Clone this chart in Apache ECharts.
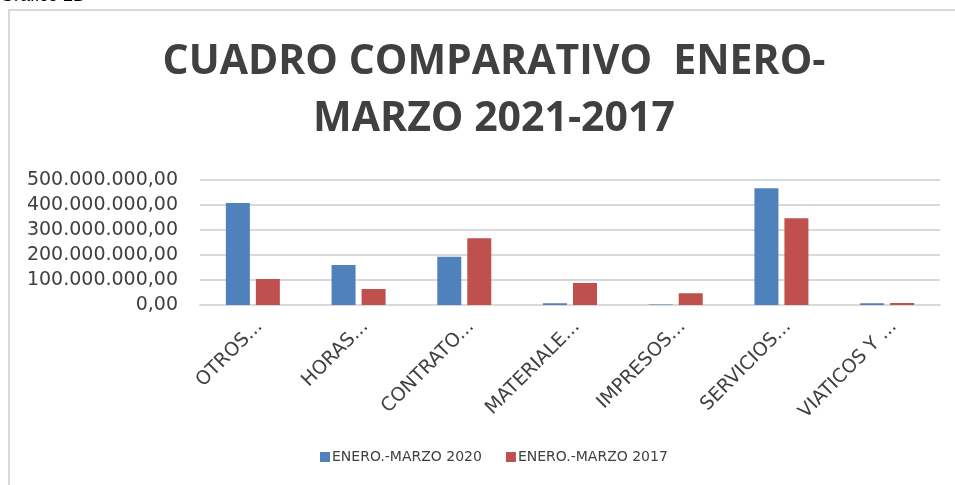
<!DOCTYPE html>
<html>
<head>
<meta charset="utf-8">
<script src="https://cdn.jsdelivr.net/npm/echarts@6/dist/echarts.min.js"></script>
<style>
  html, body { margin: 0; padding: 0; background: #fff; }
  #main { width: 955px; height: 485px; }
</style>
</head>
<body>
<div id="main"></div>
<script>
var categories = ['OTROS...', 'HORAS...', 'CONTRATO...', 'MATERIALE...', 'IMPRESOS...', 'SERVICIOS...', 'VIATICOS Y ...'];
var serie2020 = [408000000, 160000000, 193000000, 7000000, 2000000, 467000000, 7000000];
var serie2017 = [104000000, 64000000, 267000000, 88000000, 47000000, 347000000, 8000000];
var seriesNames = ['ENERO.-MARZO 2020', 'ENERO.-MARZO 2017'];

function fmt(v) {
  var s = Math.round(v).toString().replace(/\B(?=(\d{3})+(?!\d))/g, '.');
  return s + ',00';
}

var chart = echarts.init(document.getElementById('main'));

var option = {
  backgroundColor: '#fff',
  animation: false,
  title: {
    text: 'CUADRO COMPARATIVO  ENERO-\nMARZO 2021-2017',
    left: 489,
    top: 29,
    textAlign: 'center',
    textStyle: {
      fontFamily: 'Open Sans',
      fontWeight: 'bold',
      fontSize: 41,
      lineHeight: 57,
      color: '#404040'
    }
  },
  graphic: [
    {
      type: 'rect',
      shape: { x: 9, y: 10, width: 960, height: 490 },
      style: { fill: 'none', stroke: '#d9d9d9', lineWidth: 2 },
      silent: true
    },
    {
      type: 'text',
      left: 0,
      top: -13,
      style: { text: 'Gráfico 2D', font: '18px "Liberation Sans"', fill: '#000' }
    }
  ],
  legend: {
    data: seriesNames,
    left: 315,
    top: 445,
    itemWidth: 10,
    itemHeight: 10,
    itemGap: 24,
    icon: 'rect',
    textStyle: { fontFamily: 'DejaVu Sans', fontSize: 14, color: '#404040', padding: [0, 0, 0, -3] }
  },
  grid: {
    left: 200,
    right: 15,
    top: 180,
    bottom: 180,
    containLabel: false
  },
  xAxis: {
    type: 'category',
    data: categories,
    axisLine: { lineStyle: { color: '#d9d9d9', width: 2 } },
    axisTick: { show: false },
    axisLabel: {
      rotate: 45,
      interval: 0,
      margin: 12,
      verticalAlign: 'top',
      fontFamily: 'DejaVu Sans',
      fontSize: 19,
      color: '#404040'
    }
  },
  yAxis: {
    type: 'value',
    min: 0,
    max: 500000000,
    interval: 100000000,
    axisLine: { show: false },
    axisTick: { show: false },
    splitLine: { lineStyle: { color: '#d9d9d9', width: 2 } },
    axisLabel: {
      formatter: fmt,
      margin: 22,
      fontFamily: 'DejaVu Sans',
      fontSize: 19,
      color: '#404040'
    }
  },
  series: [
    {
      name: seriesNames[0],
      type: 'bar',
      data: serie2020,
      barWidth: 24,
      barGap: '25%',
      itemStyle: { color: '#4F81BD' }
    },
    {
      name: seriesNames[1],
      type: 'bar',
      data: serie2017,
      barWidth: 24,
      itemStyle: { color: '#C0504D' }
    }
  ]
};

chart.setOption(option);
</script>
</body>
</html>
